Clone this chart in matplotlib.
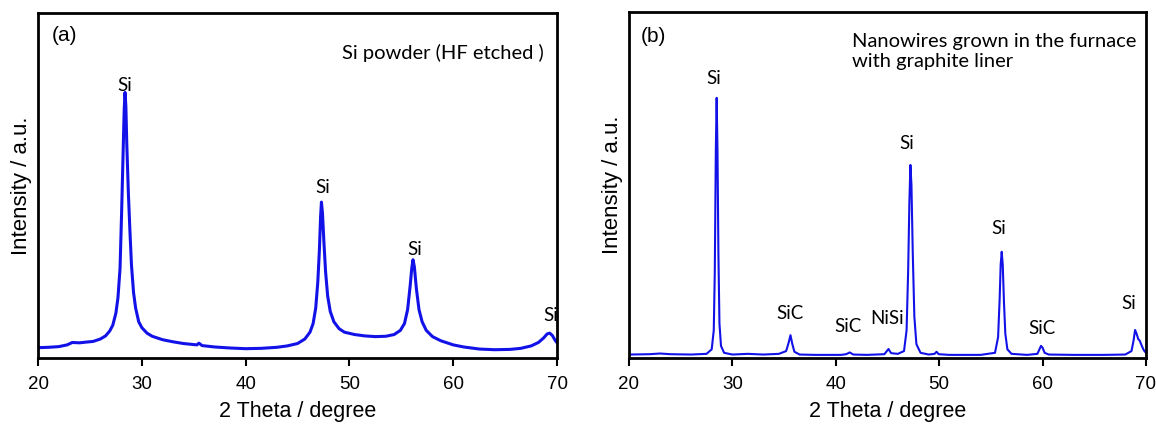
import matplotlib
matplotlib.use('Agg')
import matplotlib.pyplot as plt

# XRD pattern (a): Si powder, HF etched (intensity as fraction of axis height)
theta_a = [20.0, 21.0, 22.0, 22.8, 23.3, 24.0, 24.6, 25.3, 26.0, 26.5, 26.9, 27.2,
           27.5, 27.7, 27.9, 28.05, 28.2, 28.3, 28.38, 28.46, 28.55, 28.7, 28.85,
           29.0, 29.2, 29.4, 29.7, 30.0, 30.5, 31.0, 32.0, 33.0, 34.0, 35.3, 35.5,
           35.8, 37.0, 38.5, 40.0, 41.5, 43.0, 44.0, 45.0, 45.7, 46.2, 46.5, 46.75,
           46.95, 47.1, 47.22, 47.3, 47.4, 47.55, 47.7, 47.9, 48.15, 48.5, 49.0,
           49.5, 50.5, 51.5, 52.5, 53.5, 54.3, 54.9, 55.3, 55.6, 55.85, 56.0, 56.12,
           56.25, 56.45, 56.7, 57.0, 57.4, 58.0, 58.8, 60.0, 61.0, 62.5, 64.0, 65.5,
           66.5, 67.5, 68.2, 68.7, 69.05, 69.3, 69.55, 69.8, 70.0]
inten_a = [0.030, 0.031, 0.033, 0.038, 0.045, 0.044, 0.046, 0.048, 0.055, 0.064, 0.078, 0.095,
           0.13, 0.175, 0.26, 0.42, 0.60, 0.72, 0.77, 0.73, 0.62, 0.48, 0.37,
           0.27, 0.19, 0.145, 0.105, 0.088, 0.072, 0.063, 0.053, 0.047, 0.042, 0.038, 0.043,
           0.036, 0.032, 0.029, 0.027, 0.028, 0.031, 0.035, 0.042, 0.055, 0.075, 0.10, 0.145,
           0.22, 0.31, 0.41, 0.452, 0.42, 0.33, 0.25, 0.18, 0.135, 0.105, 0.085,
           0.075, 0.068, 0.064, 0.062, 0.063, 0.068, 0.08, 0.10, 0.14, 0.21, 0.26, 0.285,
           0.265, 0.20, 0.14, 0.105, 0.08, 0.062, 0.05, 0.038, 0.032, 0.026, 0.024, 0.025,
           0.028, 0.035, 0.045, 0.058, 0.070, 0.072, 0.065, 0.052, 0.044]

# XRD pattern (b): nanowires grown with graphite liner
theta_b = [20.0, 22.0, 23.0, 24.0, 26.0, 27.5, 28.0, 28.2, 28.3, 28.4, 28.48, 28.56,
           28.65, 28.75, 28.9, 29.2, 30.0, 31.5, 33.0, 34.5, 35.2, 35.45, 35.62, 35.8,
           36.0, 36.5, 38.0, 40.5, 41.0, 41.35, 41.7, 43.0, 44.7, 45.1, 45.35, 46.0,
           46.6, 46.85, 47.0, 47.12, 47.22, 47.32, 47.45, 47.6, 47.8, 48.2, 49.0, 49.55,
           49.75, 49.95, 51.0, 54.0, 55.4, 55.7, 55.85, 55.95, 56.05, 56.15, 56.27, 56.4,
           56.6, 57.0, 58.5, 59.5, 59.85, 60.0, 60.2, 60.6, 63.0, 66.0, 68.0, 68.6,
           68.8, 68.95, 69.1, 69.25, 69.4, 69.6, 69.8, 70.0]
inten_b = [0.010, 0.011, 0.013, 0.011, 0.010, 0.012, 0.025, 0.08, 0.25, 0.60, 0.752, 0.60,
           0.30, 0.10, 0.035, 0.015, 0.010, 0.012, 0.010, 0.012, 0.020, 0.045, 0.066, 0.040,
           0.018, 0.010, 0.009, 0.009, 0.011, 0.016, 0.010, 0.009, 0.011, 0.026, 0.014, 0.012,
           0.020, 0.08, 0.25, 0.45, 0.558, 0.50, 0.30, 0.12, 0.04, 0.015, 0.010, 0.012,
           0.018, 0.011, 0.009, 0.009, 0.015, 0.06, 0.17, 0.27, 0.307, 0.27, 0.16, 0.07,
           0.025, 0.012, 0.009, 0.012, 0.035, 0.030, 0.015, 0.010, 0.009, 0.009, 0.010, 0.02,
           0.05, 0.081, 0.07, 0.055, 0.05, 0.035, 0.022, 0.015]

# peak labels: (text, x position, bottom of text in axis fraction)
labels_a = [('Si', 28.35, 0.765), ('Si', 47.45, 0.47), ('Si', 56.25, 0.29), ('Si', 69.4, 0.10)]
labels_b = [('Si', 28.2, 0.783), ('SiC', 35.6, 0.104), ('SiC', 41.2, 0.066),
            ('NiSi', 45.0, 0.09), ('Si', 46.9, 0.595), ('Si', 55.8, 0.35),
            ('SiC', 59.95, 0.061), ('Si', 68.3, 0.133)]

xticks = [20, 30, 40, 50, 60, 70]
line_color = '#1212E8'
note_font = 'Lato'
axis_font = 'Liberation Sans'

fig = plt.figure(figsize=(11.56, 4.29), dpi=100)
ax_a = fig.add_axes([0.0329, 0.1655, 0.449, 0.804])
ax_b = fig.add_axes([0.5441, 0.1655, 0.4472, 0.8065])

panels = [
    (ax_a, theta_a, inten_a, labels_a, 2.2),
    (ax_b, theta_b, inten_b, labels_b, 1.5),
]

for ax, x, y, labels, lw in panels:
    ax.plot(x, y, color=line_color, lw=lw)
    ax.set_xlim(20, 70)
    ax.set_ylim(0, 1)
    ax.set_xticks(xticks)
    ax.set_yticks([])
    ax.tick_params(axis='x', direction='out', length=6, width=1.5, labelsize=13.5, pad=7)
    for lab in ax.get_xticklabels():
        lab.set_family(axis_font)
    for sp in ax.spines.values():
        sp.set_linewidth(2)
    ax.set_xlabel('2 Theta / degree', fontsize=15.5, family=axis_font, labelpad=6)
    ax.set_ylabel('Intensity / a.u.', fontsize=16, family=axis_font, labelpad=4)
    for txt, lx, ly in labels:
        ax.text(lx, ly, txt, ha='center', va='bottom', fontsize=13.5, family=note_font, clip_on=True)

ax_a.text(0.051, 0.935, '(a)', transform=ax_a.transAxes, ha='center', va='center',
          fontsize=15, family=axis_font)
ax_a.text(0.975, 0.884, 'Si powder (HF etched )', transform=ax_a.transAxes, ha='right',
          va='center', fontsize=14.5, family=note_font)
ax_b.text(0.047, 0.929, '(b)', transform=ax_b.transAxes, ha='center', va='center',
          fontsize=15, family=axis_font)
ax_b.text(0.431, 0.94, 'Nanowires grown in the furnace\nwith graphite liner',
          transform=ax_b.transAxes, ha='left', va='top', fontsize=14.5,
          family=note_font, linespacing=1.25)

plt.savefig('out.png', dpi=100)
